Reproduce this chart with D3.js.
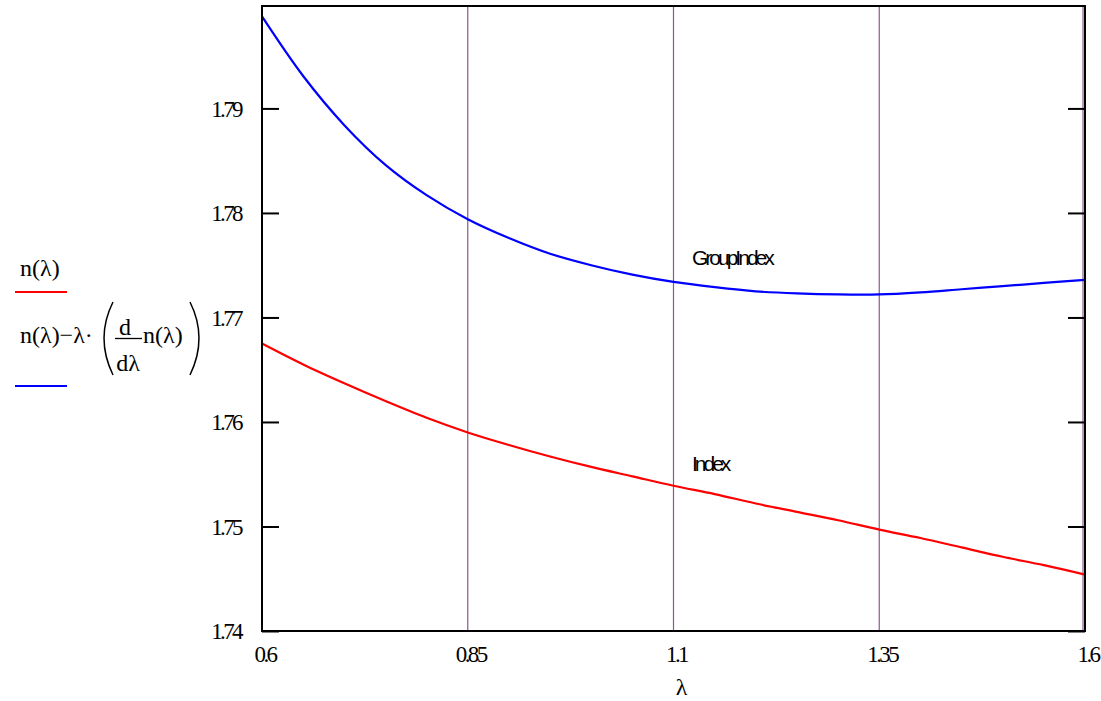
<!DOCTYPE html>
<html>
<head>
<meta charset="utf-8">
<script src="https://cdn.jsdelivr.net/npm/d3@7"></script>
<style>
  body { margin: 0; background: #fff; }
  text.tick-label { font-family: "Liberation Serif", "Times New Roman", "DejaVu Serif", serif; font-size: 23px; letter-spacing: -2.6px; fill: #000; }
  text.legend-text { font-family: "Liberation Serif", "Times New Roman", "DejaVu Serif", serif; font-size: 24px; fill: #000; }
  text.curve-label { font-family: "Liberation Sans", Arial, sans-serif; font-size: 21px; letter-spacing: -3px; fill: #000; }
</style>
</head>
<body>
<div id="plot"></div>
<script>
// wavelength samples (um)
const lambda = [0.60, 0.65, 0.70, 0.75, 0.80, 0.85, 0.90, 0.95, 1.00, 1.05, 1.10,
                1.15, 1.20, 1.25, 1.30, 1.35, 1.40, 1.45, 1.50, 1.55, 1.60];
// n(lambda) - red
const indexVals = [1.7675, 1.7655, 1.7637, 1.7620, 1.7604, 1.7590, 1.7578, 1.7567, 1.7557, 1.7548, 1.7539,
                   1.7531, 1.7522, 1.7514, 1.7506, 1.7497, 1.7489, 1.7480, 1.7471, 1.7463, 1.7454];
// group index - blue
const groupVals = [1.7988, 1.7931, 1.7884, 1.7846, 1.7817, 1.7794, 1.7776, 1.7761, 1.7750, 1.7741, 1.7734,
                   1.7729, 1.7725, 1.7723, 1.7722, 1.7722, 1.7724, 1.7727, 1.7730, 1.7733, 1.7736];

const xTicks = [0.6, 0.85, 1.1, 1.35, 1.6];
const xTickLabels = ["0.6", "0.85", "1.1", "1.35", "1.6"];
const gridLines = [0.85, 1.1, 1.35, 1.6];
const yTicks = [1.74, 1.75, 1.76, 1.77, 1.78, 1.79];
const yTickLabels = ["1.74", "1.75", "1.76", "1.77", "1.78", "1.79"];

const margin = {top: 6, right: 16, bottom: 70, left: 262};
const width = 1101 - margin.left - margin.right;   // 823
const height = 701 - margin.top - margin.bottom;   // 625

const svg = d3.select("#plot")
  .append("svg")
  .attr("width", 1101)
  .attr("height", 701);

const g = svg.append("g")
  .attr("transform", `translate(${margin.left},${margin.top})`);

const x = d3.scaleLinear().domain([0.6, 1.6]).range([0, width]);
const y = d3.scaleLinear().domain([1.74, 1.7998]).range([height, 0]);

// vertical grid lines
g.selectAll(".grid")
  .data(gridLines)
  .enter().append("line")
  .attr("x1", d => x(d) - (d === 1.6 ? 2 : 0))
  .attr("x2", d => x(d) - (d === 1.6 ? 2 : 0))
  .attr("y1", 0)
  .attr("y2", height)
  .attr("stroke", "#8a5a8a")
  .attr("stroke-width", 1.2);

// curves
const seriesIndex = lambda.map((l, i) => ({l: l, v: indexVals[i]}));
const seriesGroup = lambda.map((l, i) => ({l: l, v: groupVals[i]}));

const line = d3.line()
  .x(d => x(d.l))
  .y(d => y(d.v))
  .curve(d3.curveCatmullRom);

g.append("path")
  .datum(seriesIndex)
  .attr("fill", "none")
  .attr("stroke", "#ff0000")
  .attr("stroke-width", 2.2)
  .attr("d", line);

g.append("path")
  .datum(seriesGroup)
  .attr("fill", "none")
  .attr("stroke", "#0000ff")
  .attr("stroke-width", 2.2)
  .attr("d", line);

// frame
g.append("rect")
  .attr("x", 0)
  .attr("y", 0)
  .attr("width", width)
  .attr("height", height)
  .attr("fill", "none")
  .attr("stroke", "#000")
  .attr("stroke-width", 2);

// inward ticks on left and right
const yAxisL = d3.axisLeft(y).tickValues(yTicks).tickSize(-17).tickFormat("");
const yAxisR = d3.axisRight(y).tickValues(yTicks).tickSize(-17).tickFormat("");
g.append("g").call(yAxisL).call(a => a.select(".domain").remove())
  .selectAll("line").attr("stroke-width", 2);
g.append("g").attr("transform", `translate(${width},0)`).call(yAxisR)
  .call(a => a.select(".domain").remove())
  .selectAll("line").attr("stroke-width", 2);

// y tick labels
g.selectAll(".ylab")
  .data(yTicks)
  .enter().append("text")
  .attr("class", "tick-label")
  .attr("x", -21)
  .attr("y", d => y(d) + 3)
  .attr("text-anchor", "end")
  .attr("dominant-baseline", "middle")
  .text((d, i) => yTickLabels[i]);

// x tick labels
g.selectAll(".xlab")
  .data(xTicks)
  .enter().append("text")
  .attr("class", "tick-label")
  .attr("x", d => x(d) + 3)
  .attr("y", height + 31)
  .attr("text-anchor", "middle")
  .text((d, i) => xTickLabels[i]);

// axis title
svg.append("text")
  .attr("class", "legend-text")
  .attr("x", margin.left + x(1.1) + 8)
  .attr("y", 695)
  .attr("text-anchor", "middle")
  .text("λ");

// curve labels
g.append("text").attr("class", "curve-label")
  .attr("x", 692 - margin.left).attr("y", 265 - margin.top)
  .text("GroupIndex");
g.append("text").attr("class", "curve-label")
  .attr("x", 692 - margin.left).attr("y", 471 - margin.top)
  .text("Index");

// legend
const legend = svg.append("g");
legend.append("text").attr("class", "legend-text")
  .attr("x", 20).attr("y", 276).text("n(λ)");
legend.append("line")
  .attr("x1", 15).attr("x2", 67).attr("y1", 292).attr("y2", 292)
  .attr("stroke", "#ff0000").attr("stroke-width", 2);

legend.append("text").attr("class", "legend-text")
  .attr("x", 20).attr("y", 343).text("n(λ)−λ·");
// big parentheses
legend.append("path")
  .attr("d", "M113,302 Q95,338 113,375")
  .attr("fill", "none").attr("stroke", "#000").attr("stroke-width", 1.5);
legend.append("path")
  .attr("d", "M190,302 Q208,338 190,375")
  .attr("fill", "none").attr("stroke", "#000").attr("stroke-width", 1.5);
// fraction d/dλ
legend.append("text").attr("class", "legend-text")
  .attr("x", 125).attr("y", 335).attr("text-anchor", "middle").text("d");
legend.append("line")
  .attr("x1", 115).attr("x2", 142).attr("y1", 338.5).attr("y2", 338.5)
  .attr("stroke", "#000").attr("stroke-width", 1.3);
legend.append("text").attr("class", "legend-text")
  .attr("x", 128).attr("y", 371).attr("text-anchor", "middle").text("dλ");
legend.append("text").attr("class", "legend-text")
  .attr("x", 143).attr("y", 343).text("n(λ)");

legend.append("line")
  .attr("x1", 15).attr("x2", 67).attr("y1", 386).attr("y2", 386)
  .attr("stroke", "#0000ff").attr("stroke-width", 2);
</script>
</body>
</html>
